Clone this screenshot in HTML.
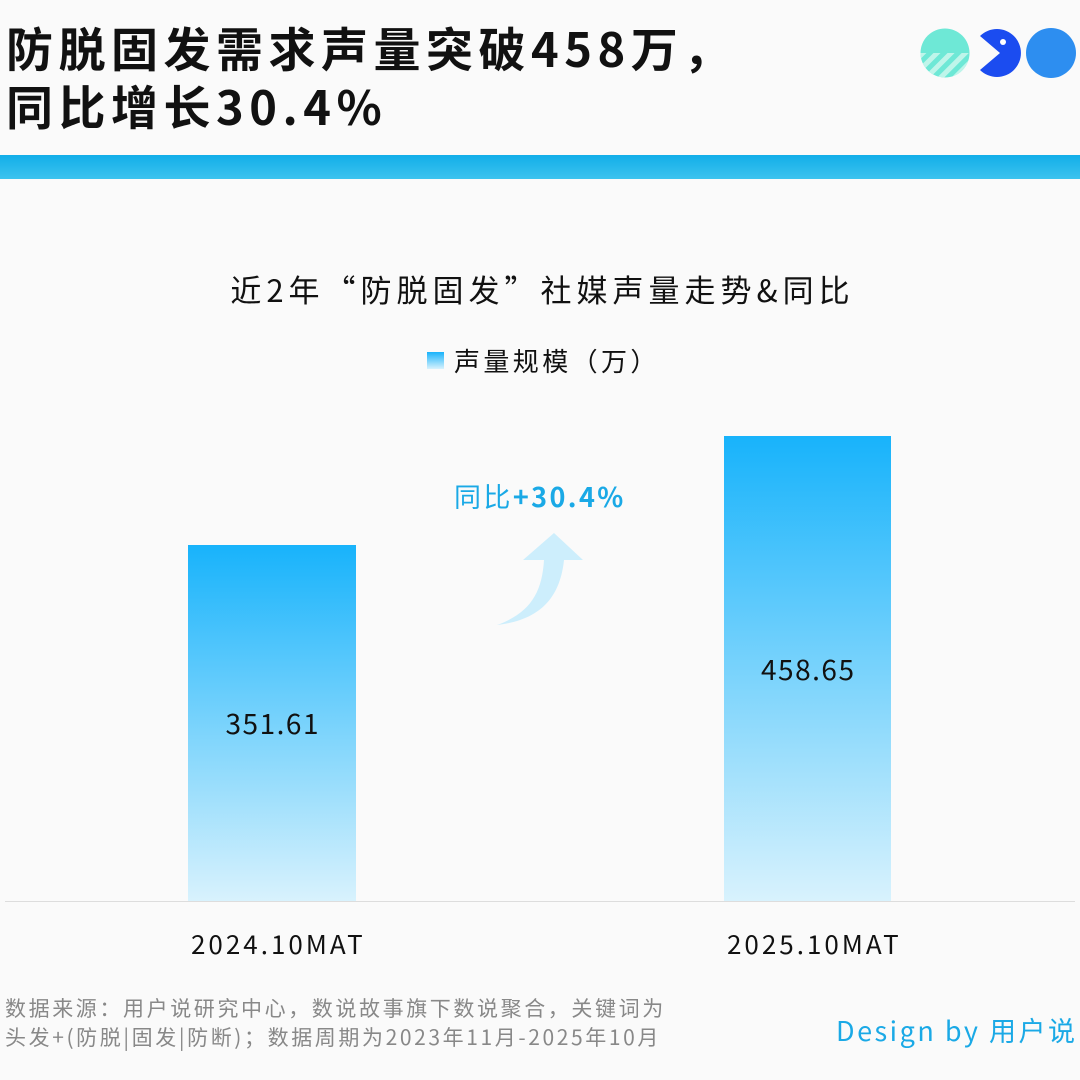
<!DOCTYPE html>
<html><head><meta charset="utf-8"><style>
html,body{margin:0;padding:0}
body{width:1080px;height:1080px;background:#fafafa;position:relative;overflow:hidden;font-family:"Noto Sans CJK SC","Liberation Sans",sans-serif;color:#111}
.a{position:absolute;white-space:nowrap}
.bar{position:absolute;background:linear-gradient(#18b3fb,#d8f2fd)}
</style></head><body>
<div class="a" style="left:6px;top:18px;font-size:47px;font-weight:bold;line-height:58px;letter-spacing:5.5px">防脱固发需求声量突破458万，<br>同比增长30.4%</div>
<svg class="a" style="left:918px;top:26px" width="162" height="56" viewBox="0 0 162 56">
<defs><clipPath id="c1"><circle cx="27" cy="27" r="24.5"/></clipPath><pattern id="st" width="10" height="10" patternUnits="userSpaceOnUse" patternTransform="rotate(45)"><rect width="5" height="10" fill="#bff5ea"/></pattern></defs>
<g clip-path="url(#c1)"><rect x="0" y="0" width="60" height="60" fill="#6ee8d6"/><rect x="0" y="27" width="60" height="40" fill="url(#st)"/></g>
<path d="M82 27 L62 10 A24 24 0 1 1 62 44 Z" fill="#1b4cf0"/>
<circle cx="85" cy="16" r="3" fill="#fff"/>
<circle cx="133" cy="27" r="25" fill="#2d8ef0"/>
</svg>
<div class="a" style="left:0;top:155px;width:1080px;height:24px;background:linear-gradient(#12aee9,#3cc3ee)"></div>
<div class="a" style="left:0;top:266px;width:1080px;text-align:center;font-size:31px;line-height:46px;letter-spacing:5px;padding-left:5px;box-sizing:border-box">近2年“防脱固发”社媒声量走势&amp;同比</div>
<div class="a" style="left:427px;top:352px;width:17px;height:17px;background:linear-gradient(#18b3fb,#d8f2fd)"></div>
<div class="a" style="left:454px;top:342px;font-size:26px;line-height:38px;letter-spacing:3.4px">声量规模（万）</div>
<div class="bar" style="left:188px;top:545px;width:168px;height:356px"></div>
<div class="bar" style="left:724px;top:436px;width:167px;height:465px"></div>
<div class="a" style="left:188px;top:703px;width:168px;text-align:center;font-size:28px;line-height:40px;letter-spacing:1.5px;padding-left:1.5px;box-sizing:border-box">351.61</div>
<div class="a" style="left:724px;top:649px;width:167px;text-align:center;font-size:28px;line-height:40px;letter-spacing:1.5px;padding-left:1.5px;box-sizing:border-box">458.65</div>
<div class="a" style="left:5px;top:901px;width:1070px;height:1px;background:#ddd"></div>
<div class="a" style="left:188px;top:925px;width:168px;text-align:center;font-size:26px;line-height:38px;letter-spacing:3px;padding-left:3px;box-sizing:border-box">2024.10MAT</div>
<div class="a" style="left:724px;top:925px;width:167px;text-align:center;font-size:26px;line-height:38px;letter-spacing:3px;padding-left:3px;box-sizing:border-box">2025.10MAT</div>
<div class="a" style="left:454px;top:476px;font-size:27px;line-height:40px;color:#1aa9e6;letter-spacing:2.4px">同比<b>+30.4%</b></div>
<svg class="a" style="left:490px;top:528px" width="100" height="100"><path d="M64 5 L93 32 L74 32 C70 70 50 92 7 97 C40 85 52 65 54 32 L33 32 Z" fill="#cdeefc"/></svg>
<div class="a" style="left:5px;top:994px;font-size:21px;line-height:29px;color:#888;letter-spacing:2.6px">数据来源：用户说研究中心，数说故事旗下数说聚合，关键词为<br>头发+(防脱|固发|防断)；数据周期为2023年11月-2025年10月</div>
<div class="a" style="left:836px;top:1010px;font-size:27px;line-height:40px;color:#1aa9e6;letter-spacing:2.5px">Design by 用户说</div>
</body></html>
